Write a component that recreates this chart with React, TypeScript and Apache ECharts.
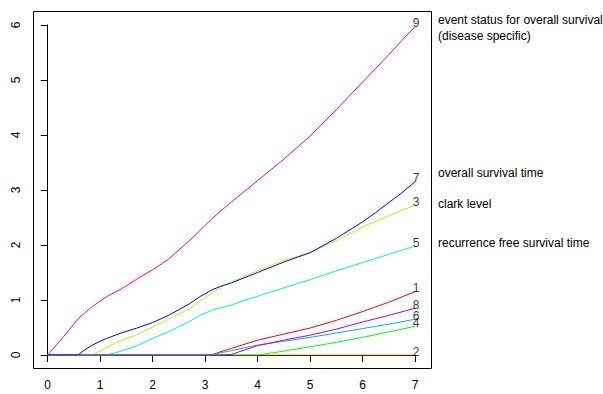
import React, { useEffect, useRef } from "react";
import * as echarts from "echarts";

const xs = [0, 0.3, 0.58, 0.7, 0.85, 1.0, 1.12, 1.4, 1.7, 2.0, 2.3, 2.7, 2.9, 3.12, 3.3, 3.5, 4.0, 4.5, 5.0, 5.5, 6.0, 6.25, 6.5, 6.75, 7.0];

const y1 = [0, 0, 0, 0, 0, 0, 0, 0, 0, 0, 0, 0, 0, 0, 0.06, 0.12, 0.27, 0.38, 0.49, 0.63, 0.79, 0.875, 0.96, 1.055, 1.15];
const y2 = [0, 0, 0, 0, 0, 0, 0, 0, 0, 0, 0, 0, 0, 0, 0, 0, 0, 0, 0, 0, 0, 0, 0, 0, 0];
const y3 = [0, 0, 0, 0, 0, 0.07, 0.14, 0.26, 0.37, 0.51, 0.65, 0.84, 0.98, 1.12, 1.23, 1.33, 1.53, 1.72, 1.86, 2.08, 2.33, 2.43, 2.53, 2.63, 2.72];
const y4 = [0, 0, 0, 0, 0, 0, 0, 0, 0, 0, 0, 0, 0, 0, 0, 0, 0, 0.07, 0.15, 0.23, 0.32, 0.37, 0.42, 0.47, 0.52];
const y5 = [0, 0, 0, 0, 0, 0, 0, 0.07, 0.17, 0.3, 0.42, 0.61, 0.72, 0.81, 0.86, 0.91, 1.07, 1.22, 1.37, 1.53, 1.68, 1.755, 1.83, 1.905, 1.98];
const y6 = [0, 0, 0, 0, 0, 0, 0, 0, 0, 0, 0, 0, 0, 0, 0.04, 0.08, 0.18, 0.25, 0.32, 0.4, 0.48, 0.52, 0.56, 0.605, 0.65];
const y7 = [0, 0, 0, 0.09, 0.18, 0.25, 0.3, 0.4, 0.49, 0.59, 0.72, 0.93, 1.06, 1.18, 1.25, 1.31, 1.5, 1.69, 1.86, 2.12, 2.42, 2.59, 2.77, 2.95, 3.15];
const y8 = [0, 0, 0, 0, 0, 0, 0, 0, 0, 0, 0, 0, 0, 0, 0, 0.01, 0.17, 0.27, 0.36, 0.47, 0.6, 0.66, 0.72, 0.785, 0.85];
const y9 = [0, 0.33, 0.66, 0.76, 0.88, 0.98, 1.06, 1.2, 1.38, 1.55, 1.74, 2.08, 2.26, 2.47, 2.62, 2.78, 3.17, 3.56, 3.98, 4.46, 4.96, 5.21, 5.46, 5.72, 5.97];

const seriesNames = ["1", "2", "3", "4", "5", "6", "7", "8", "9"];
const seriesValues = [y1, y2, y3, y4, y5, y6, y7, y8, y9];
const colors = ["#FF0000", "#FFAA00", "#AAFF00", "#00FF00", "#00FFAA", "#00AAFF", "#0000FF", "#AA00FF", "#FF00AA"];

const xTicks = [0, 1, 2, 3, 4, 5, 6, 7];
const yTicks = [0, 1, 2, 3, 4, 5, 6];

const annotations = [
  { text: "event status for overall survival", y: 20 },
  { text: "(disease specific)", y: 36 },
  { text: "overall survival time", y: 173 },
  { text: "clark level", y: 204 },
  { text: "recurrence free survival time", y: 243 },
];

const FONT = "'Liberation Sans', Arial, Helvetica, sans-serif";

export default function App() {
  const ref = useRef<HTMLDivElement>(null);
  useEffect(() => {
    if (!ref.current) return;
    const chart = echarts.init(ref.current, null, { renderer: "svg" });
    const lineSeries = seriesNames.map((name, i) => ({
      type: "line",
      name,
      data: xs.map((x, j) => [x, seriesValues[i][j]]),
      showSymbol: false,
      symbol: "none",
      lineStyle: { color: colors[i], width: 1 },
      itemStyle: { color: colors[i] },
      silent: true,
      z: 2 + i * 0.01,
    }));
    const lastIdx = xs.length - 1;
    const labelSeries = {
      type: "scatter",
      symbolSize: 1,
      itemStyle: { color: "rgba(0,0,0,0)" },
      silent: true,
      z: 5,
      data: seriesNames.map((name, i) => ({
        value: [xs[lastIdx], seriesValues[i][lastIdx]],
        name,
      })),
      label: {
        show: true,
        position: "inside",
        offset: [1, -3.5],
        formatter: (p: any) => p.name,
        color: "#000",
        fontSize: 12,
        fontFamily: FONT,
      },
    };
    chart.setOption({
      animation: false,
      backgroundColor: "#fff",
      grid: { left: 47.7, right: 188, top: 25, bottom: 39, containLabel: false },
      xAxis: {
        type: "value",
        min: 0,
        max: 7,
        interval: 1,
        offset: 13,
        axisLine: { show: true, lineStyle: { color: "#000", width: 1 } },
        axisTick: { show: true, length: 7, lineStyle: { color: "#000" } },
        axisLabel: {
          color: "#000",
          fontSize: 12,
          fontFamily: FONT,
          margin: 11,
          formatter: (v: number) => (xTicks.includes(v) ? String(v) : ""),
        },
        splitLine: { show: false },
      },
      yAxis: {
        type: "value",
        min: 0,
        max: 6,
        interval: 1,
        offset: 14.7,
        axisLine: { show: true, lineStyle: { color: "#000", width: 1 } },
        axisTick: { show: true, length: 7, lineStyle: { color: "#000" } },
        axisLabel: {
          color: "#000",
          fontSize: 12,
          fontFamily: FONT,
          rotate: 90,
          margin: 11,
          formatter: (v: number) => (yTicks.includes(v) ? String(v) : ""),
        },
        splitLine: { show: false },
      },
      graphic: [
        {
          type: "rect",
          shape: { x: 33.5, y: 11.5, width: 398, height: 357 },
          style: { fill: "none", stroke: "#000", lineWidth: 1 },
          silent: true,
          z: 10,
        },
        ...annotations.map((a) => ({
          type: "text",
          x: 438,
          y: a.y,
          style: {
            text: a.text,
            fill: "#000",
            fontSize: 12,
            fontFamily: FONT,
            verticalAlign: "middle",
            align: "left",
          },
          silent: true,
        })),
      ],
      series: [...lineSeries, labelSeries],
    });
    return () => chart.dispose();
  }, []);
  return <div ref={ref} style={{ width: 603, height: 394, position: "absolute", left: 0, top: 0 }} />;
}
